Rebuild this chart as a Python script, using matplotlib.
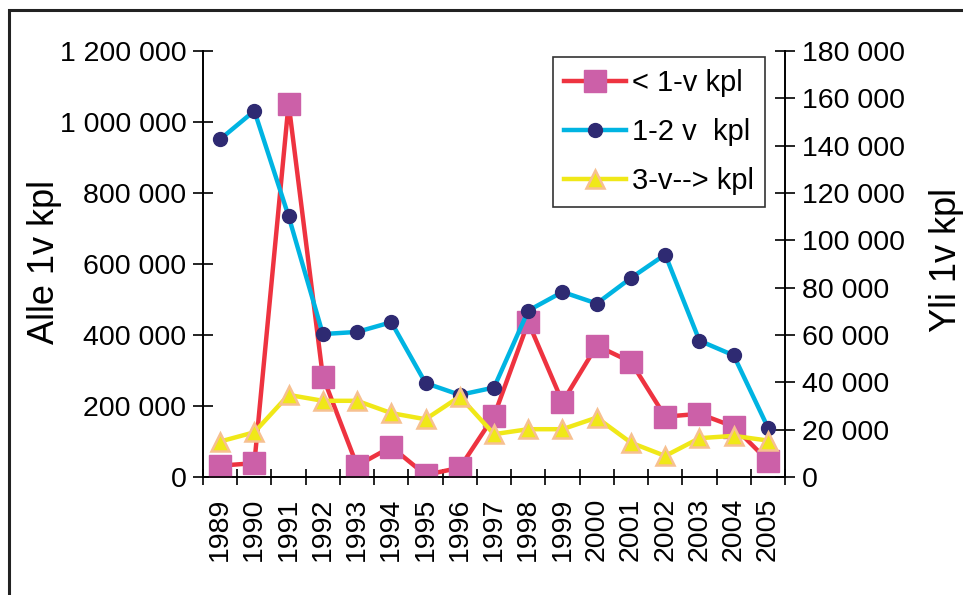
import numpy as np
import matplotlib
matplotlib.use("Agg")
from matplotlib import pyplot as plt
from matplotlib.patches import Rectangle
from matplotlib.ticker import FuncFormatter, FixedLocator

plt.rcParams['font.family'] = ['Liberation Sans', 'DejaVu Sans']

# data
years = ['1989', '1990', '1991', '1992', '1993', '1994', '1995', '1996', '1997',
         '1998', '1999', '2000', '2001', '2002', '2003', '2004', '2005']
alle_1v = [32000, 39000, 1052000, 283000, 32000, 85000, 6000, 26000, 172000,
           436000, 211000, 370000, 324000, 170000, 178000, 142000, 46000]
v1_2 = [142700, 154700, 110200, 60400, 61300, 65400, 39700, 34700, 37800,
        70300, 78200, 73300, 84100, 94000, 57600, 51400, 20900]
v3_plus = [15000, 18900, 34700, 32200, 32200, 27000, 24400, 34000, 18100,
           20200, 20200, 25100, 14500, 8900, 16400, 17400, 15400]

labels = ['< 1-v kpl', '1-2 v  kpl', '3-v--> kpl']


def space_fmt(v, pos):
    return '{:,.0f}'.format(v).replace(',', ' ')


fig = plt.figure(figsize=(9.63, 5.95), dpi=100)
ax = fig.add_axes([0.2108, 0.1983, 0.6044, 0.7160])
ax2 = ax.twinx()

x = np.arange(len(years))

# red / pink squares on the left axis
l1, = ax.plot(x, alle_1v, color='#EE3340', lw=3.2, marker='s', ms=16,
              mfc='#CC60A8', mec='#CC60A8', zorder=3)
# the two older groups on the right axis
l2, = ax2.plot(x, v1_2, color='#00B4E2', lw=3.2, marker='o', ms=10,
               mfc='#2E2A72', mec='#2E2A72', zorder=3)
l3, = ax2.plot(x, v3_plus, color='#F0E818', lw=3.2, marker='^', ms=13,
               mfc='#F0E818', mec='#F7C090', mew=1.8, zorder=4)

ax.set_xlim(-0.5, len(years) - 0.5)
ax.set_ylim(0, 1200000)
ax2.set_ylim(0, 180000)
ax.set_yticks(np.arange(0, 1200001, 200000))
ax2.set_yticks(np.arange(0, 180001, 20000))
ax.yaxis.set_major_formatter(FuncFormatter(space_fmt))
ax2.yaxis.set_major_formatter(FuncFormatter(space_fmt))

ax.set_xticks(x)
ax.set_xticklabels(years, rotation=90)
ax.xaxis.set_minor_locator(FixedLocator(np.arange(-0.5, len(years), 1)))
ax.tick_params(axis='x', which='major', length=0, pad=15, labelsize=20.5)
ax.tick_params(axis='x', which='minor', direction='inout', length=12, width=1.2)
ax.tick_params(axis='y', direction='inout', length=14, width=1.2, pad=5, labelsize=20.5)
ax2.tick_params(axis='y', direction='inout', length=14, width=1.2, pad=5, labelsize=20.5)

for a in (ax, ax2):
    a.spines['top'].set_visible(False)
    for s in ('left', 'right', 'bottom'):
        a.spines[s].set_linewidth(1.2)

ax.set_ylabel('Alle 1v kpl', fontsize=26)
ax.yaxis.set_label_coords(-0.242, 0.505)
ax2.set_ylabel('Yli 1v kpl', fontsize=26)
ax2.yaxis.set_label_coords(1.248, 0.51)

leg = ax2.legend([l1, l2, l3], labels, loc='upper right', bbox_to_anchor=(0.966, 0.985),
                 fontsize=21, frameon=True, fancybox=False, edgecolor='black',
                 handlelength=2.1, handletextpad=0.2, borderpad=0.4, labelspacing=0.72,
                 borderaxespad=0)
leg.get_frame().set_linewidth(1.2)

# outer border of the picture
fig.patches.append(Rectangle((0.0095, -0.1), 1.2, 1.083, transform=fig.transFigure,
                             fill=False, edgecolor='#222222', lw=2.2))

fig.savefig('out.png', dpi=100)
